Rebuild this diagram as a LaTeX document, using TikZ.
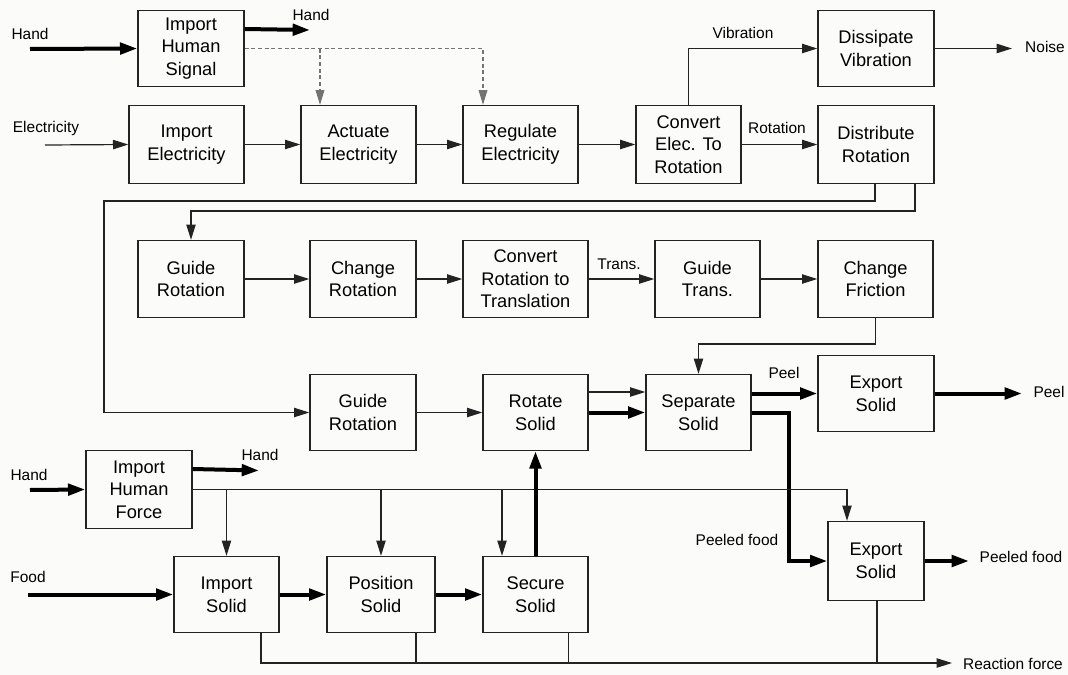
\documentclass[tikz,border=0pt]{standalone}
\usepackage{fontspec}
\setmainfont{Liberation Sans}
\usetikzlibrary{arrows.meta,calc}
\definecolor{lc}{RGB}{35,35,35}
\definecolor{dc}{RGB}{115,115,115}
\definecolor{bgc}{RGB}{251,252,250}
\newcommand\bx[6]{\node[fb, minimum width={(#4-#2)*0.75pt}, minimum height={(#5-#3)*0.75pt}]
  (#1) at ({(#2+#4)/2},{(#3+#5)/2+1.5}) {#6};}
\begin{document}
\begin{tikzpicture}[x=0.75pt,y=-0.75pt,
  fb/.style={draw=lc, line width=1pt, inner sep=0pt, align=center,
    font=\fontsize{13.7}{17}\selectfont},
  lbl/.style={inner sep=0pt, font=\fontsize{11.6}{13}\selectfont},
  ln/.style={draw=lc, line width=0.9pt},
  ar/.style={ln, -{Triangle[length=11.5pt,width=7pt]}},
  thk/.style={draw=black, line width=3pt, -{Triangle[length=13pt,width=8.5pt]}},
  dsh/.style={draw=dc, line width=0.9pt, dash pattern=on 3pt off 2pt,
    -{Triangle[length=11pt,width=6.5pt]}}
]
\useasboundingbox (0,0) rectangle (1068,675);
\fill[bgc] (0,0) rectangle (1068,675);

% boxes (centres nudged 1.5 px down so the text sits as in the reference)
\bx{ihs}{138}{9}{244}{85}{Import\\Human\\Signal}
\bx{ie}{129}{104}{244}{182}{Import\\Electricity}
\bx{ae}{301}{104}{416}{182}{Actuate\\Electricity}
\bx{re}{463}{104}{578}{182}{Regulate\\Electricity}
\bx{ce}{636}{104}{741}{182}{Convert\\Elec. To\\Rotation}
\bx{dv}{818}{9}{934}{85}{Dissipate\\Vibration}
\bx{dr}{818}{104}{934}{182}{Distribute\\Rotation}
\bx{gr1}{138}{239}{244}{316}{Guide\\Rotation}
\bx{cr}{310}{239}{416}{316}{Change\\Rotation}
\bx{crt}{463}{239}{588}{316}{Convert\\Rotation to\\Translation}
\bx{gt}{655}{239}{760}{316}{Guide\\Trans.}
\bx{cf}{818}{239}{933}{316}{Change\\Friction}
\bx{gr2}{310}{373}{416}{449}{Guide\\Rotation}
\bx{rs}{483}{373}{588}{449}{Rotate\\Solid}
\bx{ss}{646}{373}{751}{449}{Separate\\Solid}
\bx{es1}{818}{354}{934}{430}{Export\\Solid}
\bx{ihf}{86}{449}{192}{527}{Import\\Human\\Force}
\bx{is}{174}{555}{279}{631}{Import\\Solid}
\bx{ps}{327}{555}{435}{631}{Position\\Solid}
\bx{sec}{483}{555}{588}{631}{Secure\\Solid}
\bx{es2}{828}{520}{924}{599}{Export\\Solid}

% free ends
\coordinate (hIn1) at (30,49);
\coordinate (hOut1) at (310,30);
\coordinate (eIn) at (45,145);
\coordinate (nOut) at (1012,48.5);
\coordinate (pOut) at (1022,393.5);
\coordinate (pfOut) at (969,561);
\coordinate (hIn2) at (30,490);
\coordinate (hOut2) at (259,470.5);
\coordinate (fIn) at (28,594.5);
\coordinate (rfOut) at (952,663);

% row 1
\draw[thk] (hIn1) -- (ihs.west);
\draw[thk] (ihs.east |- 0,29) -- (hOut1);
\draw[dsh] (ihs.east) -| (re.north -| 483,0);
\draw[dsh] (320,48.5) -- (ae.north -| 320,0);

% row 2
\draw[ar] (eIn) -- (ie.west);
\draw[ar] (ie.east) -- (ae.west);
\draw[ar] (ae.east) -- (re.west);
\draw[ar] (re.east) -- (ce.west);
\draw[ar] (ce.east) -- (dr.west);
\draw[ar] (ce.north) |- (dv.west);
\draw[ar] (dv.east) -- (nOut);

% distribute rotation outputs
\draw[ar] (dr.south -| 875,0) |- (104,201) |- (gr2.west);
\draw[ar] (dr.south -| 915,0) |- (gr1.north |- 0,211) -- (gr1.north);

% row 3
\draw[ar] (gr1.east) -- (cr.west);
\draw[ar] (cr.east) -- (crt.west);
\draw[ar] (crt.east) -- (gt.west);
\draw[ar] (gt.east) -- (cf.west);
\draw[ar] (cf.south) |- (ss.north |- 0,344) -- (ss.north);

% row 4
\draw[ar] (gr2.east) -- (rs.west);
\draw[ar] (rs.east |- 0,392) -- (ss.west |- 0,392);
\draw[thk] (rs.east) -- (ss.west);
\draw[thk] (ss.east |- 0,393.5) -- (es1.west);
\draw[thk] (es1.east) -- (pOut);
\draw[thk] (ss.east) -- (789,412.5) |- (es2.west);
\draw[thk] (es2.east) -- (pfOut);

% human force
\draw[thk] (hIn2) -- (ihf.west);
\draw[thk] (ihf.east |- 0,469) -- (hOut2);
\draw[ar] (ihf.east) -| (es2.north -| 847,0);
\draw[ar] (is.north |- ihf.east) -- (is.north);
\draw[ar] (ps.north |- ihf.east) -- (ps.north);
\draw[ar] (502,489.5) -- (sec.north -| 502,0);
\draw[thk] (sec.north) -- (rs.south);

% food row
\draw[thk] (fIn) -- (is.west);
\draw[thk] (is.east) -- (ps.west);
\draw[thk] (ps.east) -- (sec.west);

% reaction force
\draw[ar] (is.south -| 261,0) |- (rfOut);
\draw[ln] (ps.south -| 416,0) -- (416,663);
\draw[ln] (sec.south -| 568.5,0) -- (568.5,663);
\draw[ln] (es2.south -| 877,0) -- (877,663);

% labels
\node[lbl] (lh1) at (30,34) {Hand};
\node[lbl] (lh2) at (311,15) {Hand};
\node[lbl] (lel) at (46,128) {Electricity};
\node[lbl] (lvib) at (743,33) {Vibration};
\node[lbl] (lrot) at (777,128) {Rotation};
\node[lbl] (lno) at (1045,47) {Noise};
\node[lbl] (ltr) at (619,264) {Trans.};
\node[lbl] (lp1) at (784,373) {Peel};
\node[lbl] (lp2) at (1049,392) {Peel};
\node[lbl] (lpf1) at (737,540) {Peeled food};
\node[lbl] (lpf2) at (1021,557) {Peeled food};
\node[lbl] (lh3) at (29,475) {Hand};
\node[lbl] (lh4) at (260,455) {Hand};
\node[lbl] (lfood) at (28,577) {Food};
\node[lbl] (lrf) at (1013,664) {Reaction force};
\end{tikzpicture}
\end{document}
